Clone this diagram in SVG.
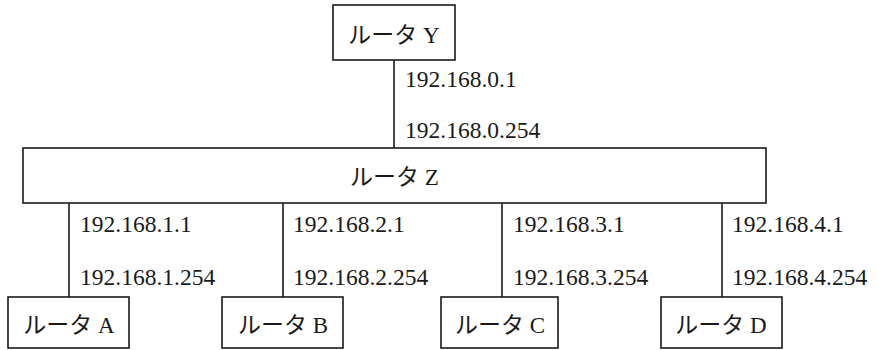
<svg xmlns="http://www.w3.org/2000/svg" width="877" height="350" viewBox="0 0 877 350">
<style>
.box{fill:#fff;stroke:#1a1a1a;stroke-width:1.6}
.ln{stroke:#1a1a1a;stroke-width:1.6;fill:none}
.lbl{font-family:"Liberation Serif","Noto Sans CJK JP",serif;font-size:23px;fill:#1a1a1a;text-anchor:middle}
.ip{font-family:"Liberation Serif",serif;font-size:23.5px;fill:#1a1a1a}
</style>
<rect width="877" height="350" fill="#fff"/>
<g id="connectors">
<line class="ln" x1="394" y1="60" x2="394" y2="148"/>
<line class="ln" x1="69" y1="203" x2="69" y2="297"/>
<line class="ln" x1="283" y1="203" x2="283" y2="297"/>
<line class="ln" x1="502" y1="203" x2="502" y2="297"/>
<line class="ln" x1="722" y1="203" x2="722" y2="297"/>
<text class="ip" x="405" y="87">192.168.0.1</text>
<text class="ip" x="405" y="138">192.168.0.254</text>
<text class="ip" x="80" y="232">192.168.1.1</text>
<text class="ip" x="80" y="285">192.168.1.254</text>
<text class="ip" x="293" y="232">192.168.2.1</text>
<text class="ip" x="293" y="285">192.168.2.254</text>
<text class="ip" x="513" y="232">192.168.3.1</text>
<text class="ip" x="513" y="285">192.168.3.254</text>
<text class="ip" x="732" y="232">192.168.4.1</text>
<text class="ip" x="732" y="285">192.168.4.254</text>
</g>
<g id="routerY">
<rect class="box" x="333" y="5" width="122" height="55"/>
<text class="lbl" x="394" y="43">ルータ Y</text>
</g>
<g id="routerZ">
<rect class="box" x="23" y="148" width="743" height="55"/>
<text class="lbl" x="394.5" y="185">ルータ Z</text>
</g>
<g id="routerA">
<rect class="box" x="8" y="297" width="121" height="51"/>
<text class="lbl" x="69" y="333">ルータ A</text>
</g>
<g id="routerB">
<rect class="box" x="222" y="297" width="121" height="51"/>
<text class="lbl" x="283" y="333">ルータ B</text>
</g>
<g id="routerC">
<rect class="box" x="441" y="297" width="117" height="51"/>
<text class="lbl" x="500" y="333">ルータ C</text>
</g>
<g id="routerD">
<rect class="box" x="661" y="297" width="121" height="51"/>
<text class="lbl" x="721" y="333">ルータ D</text>
</g>
</svg>
